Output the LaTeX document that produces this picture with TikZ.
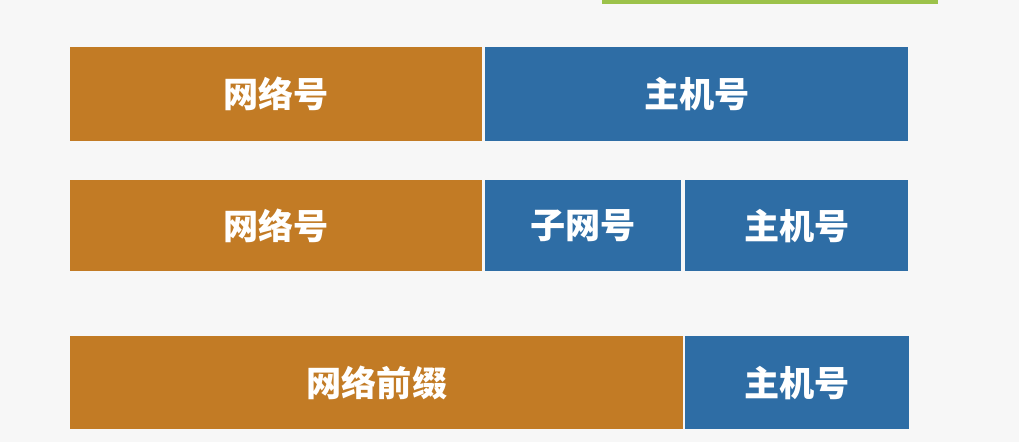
\documentclass[tikz,border=0pt]{standalone}
\usepackage{fontspec}
\newfontfamily\cjk{Noto Sans CJK SC}
\definecolor{netorange}{HTML}{C27B25}
\definecolor{hostblue}{HTML}{2E6DA5}
\definecolor{topgreen}{HTML}{9CC24A}
\definecolor{bgcolor}{HTML}{F7F7F7}
\begin{document}
\begin{tikzpicture}[x=0.025cm,y=-0.025cm]

	\tikzstyle{field}=[rectangle,inner sep=0pt,anchor=north west,text=white,font=\cjk\bfseries\fontsize{25}{30}\selectfont]
	\tikzstyle{netpart}=[field,fill=netorange]
	\tikzstyle{hostpart}=[field,fill=hostblue]

	% background and page bar
	\fill[bgcolor] (0,0) rectangle (1019,442);
	\fill[topgreen] (602,0) rectangle (938,4);

	% classful address
	\node[netpart,minimum width=10.3cm,minimum height=2.35cm] (net1) at (70,47) {网络号};
	\node[hostpart,minimum width=10.575cm,minimum height=2.35cm] (host1) at (485,47) {主机号};

	% subnetting
	\node[netpart,minimum width=10.3cm,minimum height=2.275cm] (net2) at (70,180) {网络号};
	\node[hostpart,minimum width=4.9cm,minimum height=2.275cm] (sub2) at (485,180) {子网号};
	\node[hostpart,minimum width=5.575cm,minimum height=2.275cm] (host2) at (685,180) {主机号};

	% CIDR
	\node[netpart,minimum width=15.325cm,minimum height=2.325cm] (net3) at (70,336) {网络前缀};
	\node[hostpart,minimum width=5.6cm,minimum height=2.325cm] (host3) at (685,336) {主机号};

\end{tikzpicture}
\end{document}
